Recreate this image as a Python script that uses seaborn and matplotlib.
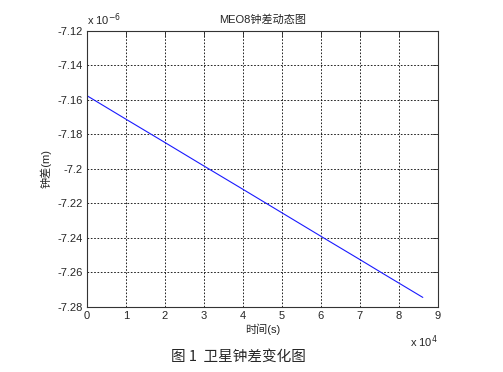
import numpy as np
import pandas as pd
import matplotlib
matplotlib.use("Agg")
import matplotlib.pyplot as plt
import seaborn as sns
from matplotlib.ticker import FuncFormatter, MultipleLocator

sns.set_style("white")
plt.rcParams['font.family'] = ['Liberation Sans', 'Noto Sans CJK SC', 'DejaVu Sans']

# -----------------------------
# DATA
# -----------------------------
time_s = [0, 10000, 20000, 30000, 40000, 50000, 60000, 70000, 76000, 86200]
clock_err_m = [-7.1576e-6, -7.1712e-6, -7.1847e-6, -7.1983e-6, -7.2118e-6,
               -7.2254e-6, -7.2390e-6, -7.2525e-6, -7.2607e-6, -7.2745e-6]

df = pd.DataFrame({"time": time_s, "err": clock_err_m})

fig = plt.figure(figsize=(5.03, 3.72), dpi=100)
ax = fig.add_axes([0.173, 0.175, 0.697, 0.742])

sns.lineplot(data=df, x="time", y="err", ax=ax, color="#1a1aff", linewidth=0.8)

ax.set_xlim(0, 90000)
ax.set_ylim(-7.28e-6, -7.12e-6)
ax.xaxis.set_major_locator(MultipleLocator(10000))
ax.yaxis.set_major_locator(MultipleLocator(0.02e-6))
ax.xaxis.set_major_formatter(FuncFormatter(lambda v, p: "%g" % round(v / 1e4, 6)))
ax.yaxis.set_major_formatter(FuncFormatter(lambda v, p: "%g" % round(v / 1e-6, 6)))

# MATLAB-like dotted grid, inward ticks on all sides
ax.grid(True, color="black", linestyle=(0, (2, 2)), linewidth=0.6)
ax.tick_params(direction="in", length=4, width=0.6, top=True, right=True,
               labelsize=8, pad=3)
for s in ax.spines.values():
    s.set_linewidth(0.8)
    s.set_color("#333333")

ax.set_title("MEO8钟差动态图", fontsize=8, pad=6)
ax.set_xlabel("时间(s)", fontsize=8, labelpad=2)
ax.set_ylabel("钟差(m)", fontsize=8, labelpad=4)

ax.text(0.0, 1.01, r"x 10$^{-6}$", transform=ax.transAxes, fontsize=8,
        ha="left", va="bottom")
ax.text(1.0, -0.095, r"x 10$^{4}$", transform=ax.transAxes, fontsize=8,
        ha="right", va="top")

fig.text(0.475, 0.04, "图 1  卫星钟差变化图", fontsize=10.5, ha="center", va="center",
         family=["Noto Sans CJK SC", "DejaVu Sans"])

fig.savefig("out.png", dpi=100)
